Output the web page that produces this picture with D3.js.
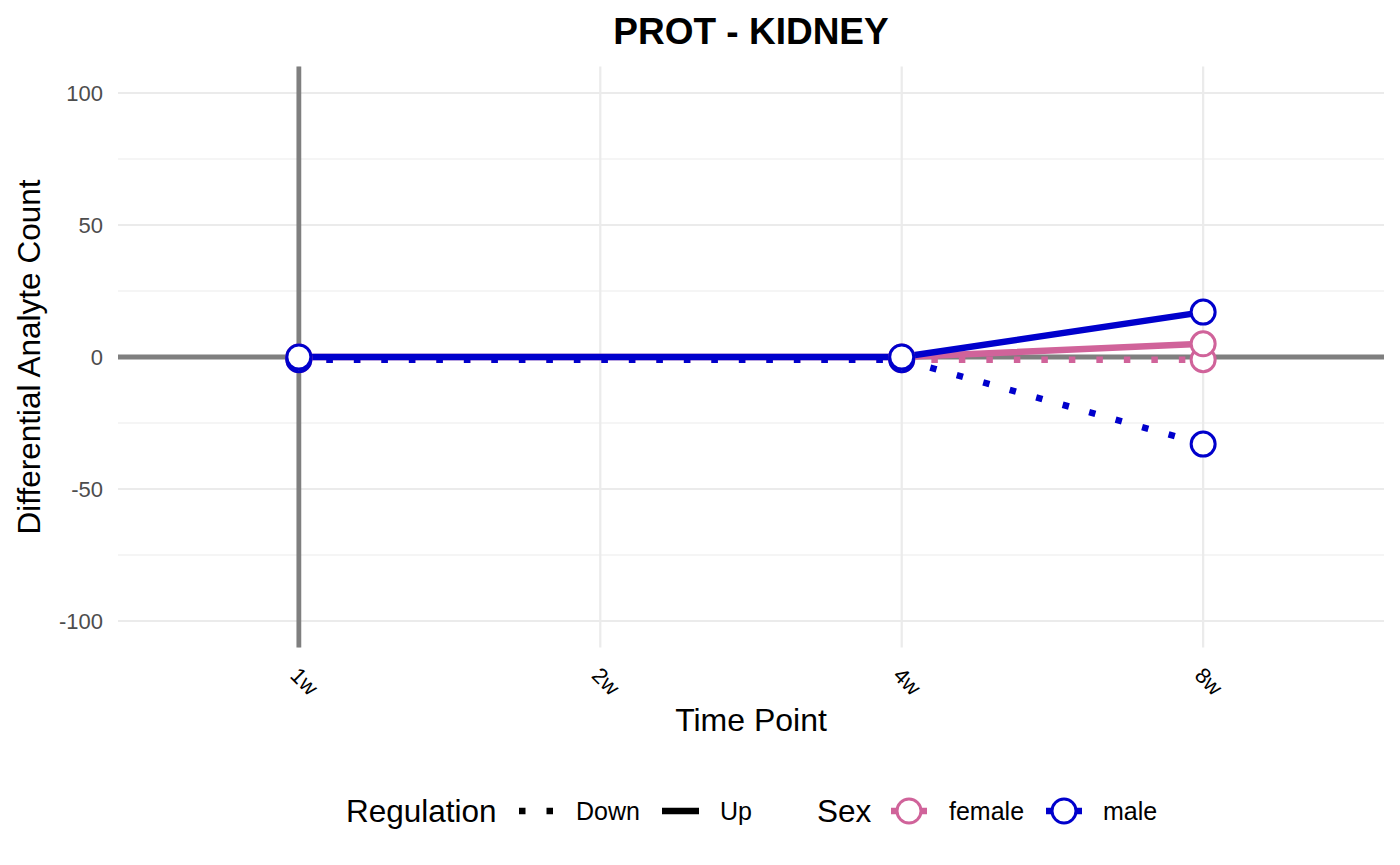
<!DOCTYPE html>
<html>
<head>
<meta charset="utf-8">
<script src="https://cdn.jsdelivr.net/npm/d3@7"></script>
<style>
  html, body { margin: 0; padding: 0; background: #fff; }
  text { font-family: "Liberation Sans", Arial, Helvetica, sans-serif; }
</style>
</head>
<body>
<svg id="chart" width="1400" height="865"></svg>
<script>
// ---------------- data ----------------
const titleText = "PROT - KIDNEY";
const timePoints = ["1w", "2w", "4w", "8w"];
const observedTimes = ["1w", "4w", "8w"];
const sexes = ["female", "male"];
const regulations = ["Down", "Up"];
const femaleDown = [-1, -1, -1];
const femaleUp = [0, 0, 5];
const maleDown = [-1, -1, -33];
const maleUp = [0, 0, 17];
const yTicks = [-100, -50, 0, 50, 100];
const yTickLabels = ["-100", "-50", "0", "50", "100"];
const yMinorTicks = [-75, -25, 25, 75];
const sexColors = { female: "#d0639a", male: "#0000cc" };

const series = [
  { sex: "female", reg: "Down", values: femaleDown },
  { sex: "female", reg: "Up", values: femaleUp },
  { sex: "male", reg: "Down", values: maleDown },
  { sex: "male", reg: "Up", values: maleUp }
];

// ---------------- layout ----------------
const panel = { left: 118, right: 1384, top: 66.6, bottom: 647.4 };
const svg = d3.select("#chart");

const x = d3.scalePoint().domain(timePoints).range([panel.left, panel.right]).padding(0.6);
const y = d3.scaleLinear().domain([-110, 110]).range([panel.bottom, panel.top]);

const gridColor = "#ebebeb";
svg.append("g").selectAll("line").data(yMinorTicks).join("line")
  .attr("x1", panel.left).attr("x2", panel.right)
  .attr("y1", d => y(d)).attr("y2", d => y(d))
  .attr("stroke", gridColor).attr("stroke-width", 1.1);
svg.append("g").selectAll("line").data(yTicks).join("line")
  .attr("x1", panel.left).attr("x2", panel.right)
  .attr("y1", d => y(d)).attr("y2", d => y(d))
  .attr("stroke", gridColor).attr("stroke-width", 2.2);
svg.append("g").selectAll("line").data(timePoints).join("line")
  .attr("x1", d => x(d)).attr("x2", d => x(d))
  .attr("y1", panel.top).attr("y2", panel.bottom)
  .attr("stroke", gridColor).attr("stroke-width", 2.2);

// reference lines
svg.append("line")
  .attr("x1", panel.left).attr("x2", panel.right)
  .attr("y1", y(0)).attr("y2", y(0))
  .attr("stroke", "#7f7f7f").attr("stroke-width", 4.8);
svg.append("line")
  .attr("x1", x("1w")).attr("x2", x("1w"))
  .attr("y1", panel.top).attr("y2", panel.bottom)
  .attr("stroke", "#7f7f7f").attr("stroke-width", 4.8);

// axes
const yAxis = svg.append("g")
  .attr("transform", `translate(${panel.left - 15},0)`)
  .call(d3.axisLeft(y).tickValues(yTicks).tickSize(0).tickPadding(0)
    .tickFormat((d, i) => yTickLabels[i]));
yAxis.select(".domain").remove();
yAxis.selectAll("text")
  .attr("fill", "#4d4d4d").attr("font-size", 22)
  .attr("font-family", "Liberation Sans, Arial, sans-serif")
  .attr("dy", "0.36em");

const xAxis = svg.append("g")
  .attr("transform", `translate(0,${panel.bottom})`)
  .call(d3.axisBottom(x).tickSize(0).tickPadding(0));
xAxis.select(".domain").remove();
xAxis.selectAll("text")
  .attr("fill", "#000").attr("font-size", 22)
  .attr("font-family", "Liberation Sans, Arial, sans-serif")
  .attr("y", 0).attr("dy", null)
  .attr("text-anchor", "middle")
  .attr("dominant-baseline", "central")
  .attr("transform", "translate(5,34) rotate(45)");

// lines
const line = d3.line()
  .x((d, i) => x(observedTimes[i]))
  .y(d => y(d));
svg.append("g").selectAll("path").data(series).join("path")
  .attr("d", d => line(d.values))
  .attr("fill", "none")
  .attr("stroke", d => sexColors[d.sex])
  .attr("stroke-width", 6.5)
  .attr("stroke-linecap", "butt")
  .attr("stroke-dasharray", d => d.reg === "Down" ? "6.5,21" : null);

// points
const pts = [];
series.forEach(s => s.values.forEach((v, i) => pts.push({ sex: s.sex, t: observedTimes[i], v })));
svg.append("g").selectAll("circle").data(pts).join("circle")
  .attr("cx", d => x(d.t)).attr("cy", d => y(d.v)).attr("r", 12)
  .attr("fill", "#fff")
  .attr("stroke", d => sexColors[d.sex])
  .attr("stroke-width", 3);

// titles
svg.append("text").attr("x", (panel.left + panel.right) / 2).attr("y", 44)
  .attr("text-anchor", "middle").attr("font-weight", "bold").attr("font-size", 37)
  .text(titleText);
svg.append("text").attr("x", (panel.left + panel.right) / 2).attr("y", 731)
  .attr("text-anchor", "middle").attr("font-size", 32)
  .text("Time Point");
svg.append("text")
  .attr("transform", `translate(40,${(panel.top + panel.bottom) / 2}) rotate(-90)`)
  .attr("text-anchor", "middle").attr("font-size", 31.5)
  .text("Differential Analyte Count");

// legend
const ly = 811;
const leg = svg.append("g");
leg.append("text").attr("x", 346).attr("y", ly).attr("dominant-baseline", "central")
  .attr("font-size", 31.5).text("Regulation");
const regKeys = [{ reg: regulations[0], x0: 519, lx: 576 }, { reg: regulations[1], x0: 662, lx: 720 }];
regKeys.forEach(k => {
  leg.append("line").attr("x1", k.x0).attr("x2", k.x0 + 37).attr("y1", ly).attr("y2", ly)
    .attr("stroke", "#000").attr("stroke-width", 6.5)
    .attr("stroke-dasharray", k.reg === "Down" ? "6.5,21" : null);
  leg.append("text").attr("x", k.lx).attr("y", ly).attr("dominant-baseline", "central")
    .attr("font-size", 25).text(k.reg);
});
leg.append("text").attr("x", 817).attr("y", ly).attr("dominant-baseline", "central")
  .attr("font-size", 31.5).text("Sex");
const sexKeys = [{ sex: sexes[0], cx: 909, lx: 949 }, { sex: sexes[1], cx: 1064, lx: 1103 }];
sexKeys.forEach(k => {
  leg.append("line").attr("x1", k.cx - 18).attr("x2", k.cx + 18).attr("y1", ly).attr("y2", ly)
    .attr("stroke", sexColors[k.sex]).attr("stroke-width", 6.5);
  leg.append("circle").attr("cx", k.cx).attr("cy", ly).attr("r", 12)
    .attr("fill", "#fff").attr("stroke", sexColors[k.sex]).attr("stroke-width", 3);
  leg.append("text").attr("x", k.lx).attr("y", ly).attr("dominant-baseline", "central")
    .attr("font-size", 25).text(k.sex);
});
</script>
</body>
</html>
